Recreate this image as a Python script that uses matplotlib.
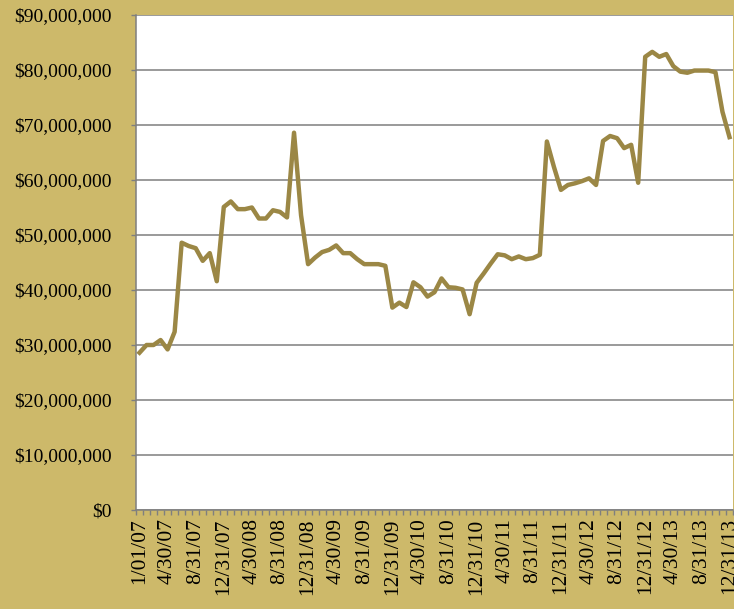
import numpy as np
import matplotlib
matplotlib.use("Agg")
import matplotlib.pyplot as plt
from matplotlib.ticker import FuncFormatter, MultipleLocator

plt.rcParams["font.family"] = ["Liberation Serif", "DejaVu Serif"]

# valor mensual en millones de dólares (1/01/07 y luego fin de cada mes hasta 12/31/13)
valores = [28.6, 30.0, 30.0, 30.9, 29.2, 32.4, 48.6, 48.0, 47.6, 45.3,
           46.7, 41.6, 55.1, 56.1, 54.7, 54.7, 55.0, 53.0, 53.0, 54.5,
           54.2, 53.2, 68.6, 53.6, 44.7, 45.9, 46.9, 47.3, 48.1, 46.7,
           46.7, 45.6, 44.7, 44.7, 44.7, 44.4, 36.8, 37.7, 36.9, 41.4,
           40.5, 38.8, 39.6, 42.1, 40.5, 40.4, 40.1, 35.6, 41.3, 43.0,
           44.8, 46.5, 46.3, 45.6, 46.1, 45.6, 45.8, 46.4, 67.0, 62.4,
           58.2, 59.1, 59.4, 59.8, 60.3, 59.1, 67.1, 68.0, 67.6, 65.8,
           66.4, 59.5, 82.4, 83.3, 82.4, 82.9, 80.7, 79.7, 79.5, 79.9,
           79.9, 79.9, 79.6, 72.4, 67.8]

# etiquetas del eje x (una cada 4 categorías)
etiquetas = ["1/01/07", "4/30/07", "8/31/07", "12/31/07", "4/30/08", "8/31/08",
             "12/31/08", "4/30/09", "8/31/09", "12/31/09", "4/30/10", "8/31/10",
             "12/31/10", "4/30/11", "8/31/11", "12/31/11", "4/30/12", "8/31/12",
             "12/31/12", "4/30/13", "8/31/13", "12/31/13"]

fondo = "#CDB96A"
linea = "#9B8745"
gris = "#7F7F7F"

fig = plt.figure(figsize=(7.34, 6.09), dpi=100, facecolor=fondo)
ax = fig.add_axes([136 / 734, 99 / 609, 597 / 734, 495 / 609])
ax.set_facecolor("white")

x = np.arange(len(valores))
ax.plot(x, valores, color=linea, lw=3.2, solid_joinstyle="round", zorder=3)

ax.set_xlim(-0.5, len(valores) - 0.5)
ax.set_ylim(0, 90)
ax.yaxis.set_major_locator(MultipleLocator(10))
ax.yaxis.set_major_formatter(FuncFormatter(lambda v, p: "${:,.0f}".format(v * 1_000_000)))
ax.grid(axis="y", color=gris, lw=1.1, zorder=1)

ax.set_xticks(np.arange(0, len(valores), 4))
ax.set_xticklabels(etiquetas, rotation=90, va="top", ha="center")
ax.set_xticks(np.arange(-0.5, len(valores), 1), minor=True)
ax.tick_params(axis="x", which="major", length=0, pad=6, labelsize=15.5)
ax.tick_params(axis="x", which="minor", length=3.6, width=1, color=gris)
ax.tick_params(axis="y", length=3.6, width=1, color=gris, pad=14, labelsize=14)

for lado in ["top", "right"]:
    ax.spines[lado].set_visible(False)
for lado in ["left", "bottom"]:
    ax.spines[lado].set_color(gris)
    ax.spines[lado].set_linewidth(1.1)

fig.savefig("out.png", dpi=100, facecolor=fondo)
